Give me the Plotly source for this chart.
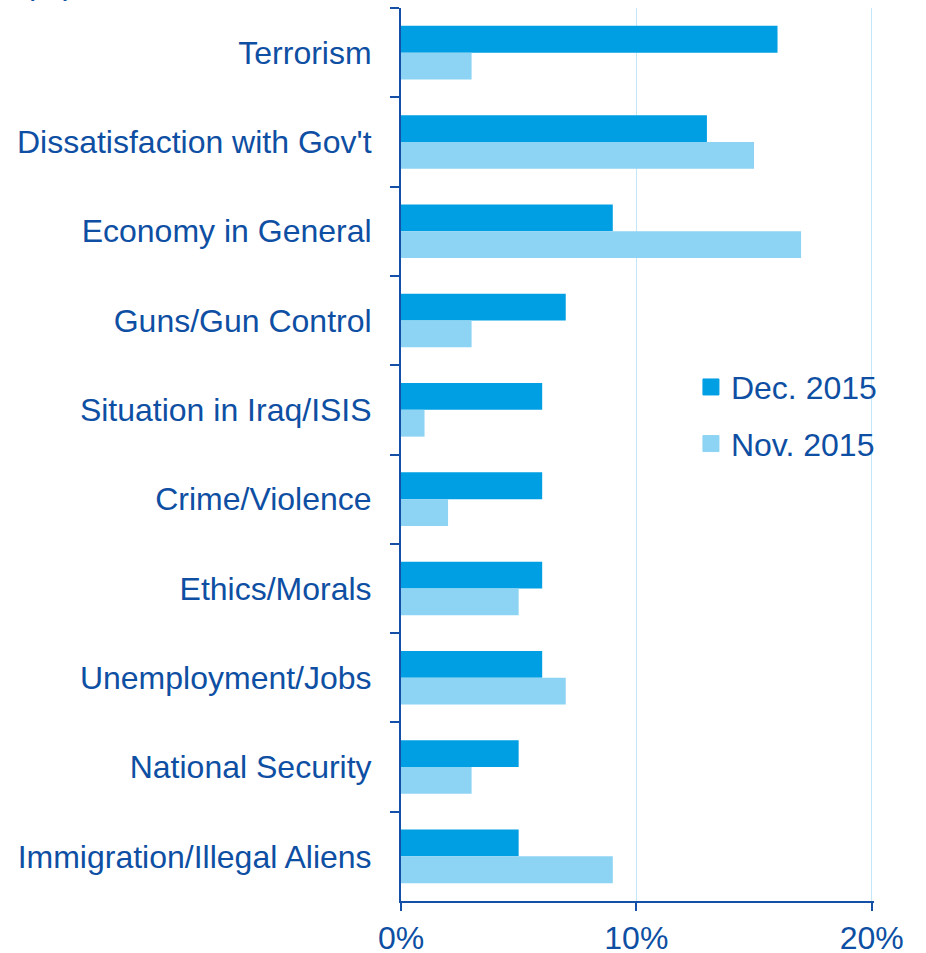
import plotly.graph_objects as go

# Most important problem facing the country, share of respondents (%)
categories = [
    "Terrorism",
    "Dissatisfaction with Gov't",
    "Economy in General",
    "Guns/Gun Control",
    "Situation in Iraq/ISIS",
    "Crime/Violence",
    "Ethics/Morals",
    "Unemployment/Jobs",
    "National Security",
    "Immigration/Illegal Aliens",
]
dec_2015 = [16, 13, 9, 7, 6, 6, 6, 6, 5, 5]
nov_2015 = [3, 15, 17, 3, 1, 2, 5, 7, 3, 9]

series_names = ["Dec. 2015", "Nov. 2015"]
x_ticks = [0, 10, 20]
x_tick_labels = ["0%", "10%", "20%"]

DEC_COLOR = "#009FE3"
NOV_COLOR = "#8DD3F3"
TEXT_COLOR = "#0E4FA3"
AXIS_COLOR = "#1450A8"
GRID_COLOR = "#C4E7F8"
FONT = "Liberation Sans, Arial, sans-serif"
FS = 32

fig = go.Figure()

for name, values, color in [
    (series_names[0], dec_2015, DEC_COLOR),
    (series_names[1], nov_2015, NOV_COLOR),
]:
    fig.add_trace(go.Bar(
        y=categories,
        x=values,
        orientation="h",
        name=name,
        marker=dict(color=color, line=dict(width=0)),
        showlegend=False,
        hoverinfo="x+y+name",
    ))

# legend entries with larger square swatches
for i, (name, color) in enumerate([(series_names[0], DEC_COLOR), (series_names[1], NOV_COLOR)]):
    fig.add_trace(go.Scatter(
        x=[None], y=[None],
        mode="markers",
        name=name,
        legendgroup=f"g{i}",
        marker=dict(symbol="square", size=16, color=color,
                    line=dict(width=1, color=color)),
        showlegend=True,
    ))

fig.update_layout(
    width=926,
    height=953,
    margin=dict(l=401, r=52, t=8, b=52, autoexpand=False),
    paper_bgcolor="white",
    plot_bgcolor="white",
    barmode="group",
    bargap=0.4,
    bargroupgap=0,
    font=dict(family=FONT, size=FS, color=TEXT_COLOR),
    showlegend=True,
    legend=dict(
        x=0.613, y=0.6062,
        xref="paper", yref="paper",
        xanchor="left", yanchor="top",
        bgcolor="rgba(0,0,0,0)",
        font=dict(family=FONT, size=FS, color=TEXT_COLOR),
        traceorder="grouped",
        tracegroupgap=12,
        itemwidth=30,
    ),
    xaxis=dict(
        range=[0, 20.1],
        tickvals=x_ticks,
        ticktext=x_tick_labels,
        showgrid=True,
        gridcolor=GRID_COLOR,
        gridwidth=1,
        zeroline=False,
        showline=True,
        linecolor=AXIS_COLOR,
        linewidth=2,
        ticks="outside",
        ticklen=8,
        tickwidth=2,
        tickcolor=AXIS_COLOR,
        ticklabelstandoff=0,
        automargin=False,
        tickfont=dict(family=FONT, size=FS, color=TEXT_COLOR),
    ),
    yaxis=dict(
        type="category",
        categoryorder="array",
        categoryarray=categories,
        autorange="reversed",
        showgrid=False,
        zeroline=False,
        showline=True,
        linecolor=AXIS_COLOR,
        linewidth=2,
        ticks="outside",
        tickson="boundaries",
        ticklen=9,
        tickwidth=2,
        tickcolor=AXIS_COLOR,
        ticklabelstandoff=21,
        automargin=False,
        tickfont=dict(family=FONT, size=FS, color=TEXT_COLOR),
    ),
    annotations=[
        dict(
            text="(%)",
            xref="paper", yref="paper",
            x=-0.745, y=1.0056,
            xanchor="center", yanchor="bottom",
            showarrow=False,
            font=dict(family=FONT, size=FS, color=TEXT_COLOR),
        )
    ],
)

fig.write_html("out.html")
